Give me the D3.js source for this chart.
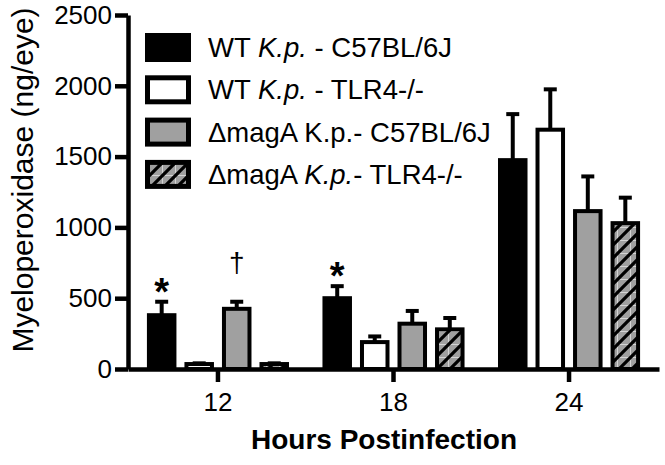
<!DOCTYPE html>
<html>
<head>
<meta charset="utf-8">
<script src="https://cdn.jsdelivr.net/npm/d3@7"></script>
<style>
  body { margin: 0; background: #fff; }
  svg text { font-family: "Liberation Sans", Arial, sans-serif; fill: #000; }
</style>
</head>
<body>
<div id="graph"></div>
<script>
// categories and values
var hours = ["12", "18", "24"];
var groups = ["wtB6", "wtTlr4", "magB6", "magTlr4"];
var wtB6 = [380, 500, 1475];
var wtTlr4 = [35, 190, 1690];
var magB6 = [425, 320, 1115];
var magTlr4 = [35, 280, 1030];
var wtB6Err = [95, 85, 325];
var wtTlr4Err = [5, 40, 285];
var magB6Err = [50, 90, 245];
var magTlr4Err = [5, 80, 180];
var yTicks = [0, 500, 1000, 1500, 2000, 2500];
// legend labels, [plain, italic, plain]
var legendLabels = [
  ["WT ", "K.p.", " - C57BL/6J"],
  ["WT ", "K.p.", " - TLR4-/-"],
  ["\u0394magA K.p.- C57BL/6J", "", ""],
  ["\u0394magA ", "K.p.", "- TLR4-/-"]
];
// significance marks
var markHour = ["12", "12", "18"];
var markGroup = ["wtB6", "magB6", "wtB6"];
var markText = ["*", "\u2020", "*"];

var means = [wtB6, wtTlr4, magB6, magTlr4];
var errs = [wtB6Err, wtTlr4Err, magB6Err, magTlr4Err];
var fills = ["#000", "#fff", "#a0a0a0", "url(#hatch)"];

var width = 665, height = 465;

var svg = d3.select("#graph")
  .append("svg")
    .attr("width", width)
    .attr("height", height);

// hatch pattern for the last group
var pat = svg.append("defs").append("pattern")
    .attr("id", "hatch")
    .attr("patternUnits", "userSpaceOnUse")
    .attr("width", 13)
    .attr("height", 13);
pat.append("rect").attr("width", 13).attr("height", 13).attr("fill", "#a0a0a0");
pat.append("path")
    .attr("d", "M0 6.5 H13 M6.5 0 V13")
    .attr("stroke", "#fff").attr("stroke-opacity", 0.55).attr("stroke-width", 1);
pat.append("path")
    .attr("d", "M-3 3 L3 -3 M0 13 L13 0 M10 16 L16 10")
    .attr("stroke", "#000").attr("stroke-width", 3.2);

var x0 = d3.scaleBand()
  .domain(hours)
  .range([128, 659])
  .paddingInner(0.145)
  .paddingOuter(0.085);

var x1 = d3.scaleBand()
  .domain(groups)
  .range([0, x0.bandwidth()])
  .paddingInner(0.32)
  .paddingOuter(0.16);

var y = d3.scaleLinear()
  .domain([0, 2500])
  .range([369, 15]);

var rows = [];
hours.forEach(function(h, i) {
  groups.forEach(function(g, j) {
    rows.push({ hour: h, group: g, idx: j, value: means[j][i], err: errs[j][i] });
  });
});

// error bars (upper only)
var eb = svg.append("g")
  .attr("stroke", "#000")
  .attr("stroke-width", 4);
rows.forEach(function(d) {
  var cx = x0(d.hour) + x1(d.group) + x1.bandwidth() / 2;
  eb.append("line")
    .attr("x1", cx).attr("x2", cx)
    .attr("y1", y(d.value)).attr("y2", y(d.value + d.err));
  eb.append("line")
    .attr("x1", cx - 6.5).attr("x2", cx + 6.5)
    .attr("y1", y(d.value + d.err)).attr("y2", y(d.value + d.err));
});

// bars
svg.append("g")
  .selectAll("rect")
  .data(rows)
  .enter().append("rect")
    .attr("x", function(d) { return x0(d.hour) + x1(d.group); })
    .attr("y", function(d) { return y(d.value); })
    .attr("width", x1.bandwidth())
    .attr("height", function(d) { return y(0) - y(d.value); })
    .attr("fill", function(d) { return fills[d.idx]; })
    .attr("stroke", "#000")
    .attr("stroke-width", 4);

// axes
var yAxis = svg.append("g")
  .attr("transform", "translate(128,0)")
  .call(d3.axisLeft(y).tickValues(yTicks).tickFormat(d3.format("d"))
    .tickSize(13).tickSizeOuter(0).tickPadding(3));

var xAxis = svg.append("g")
  .attr("transform", "translate(0,369)")
  .call(d3.axisBottom(x0).tickSize(13).tickSizeOuter(0).tickPadding(11));

[yAxis, xAxis].forEach(function(a) {
  a.selectAll("path, line").attr("stroke", "#000").attr("stroke-width", 4.5);
  a.selectAll("text")
    .style("font-family", "'Liberation Sans', Arial, sans-serif")
    .style("font-size", "26px")
    .attr("fill", "#000");
});

// axis titles
svg.append("text")
  .attr("transform", "translate(33,180) rotate(-90)")
  .attr("text-anchor", "middle")
  .style("font-size", "30px")
  .text("Myeloperoxidase (ng/eye)");

svg.append("text")
  .attr("x", 384)
  .attr("y", 449)
  .attr("text-anchor", "middle")
  .style("font-size", "28px")
  .style("font-weight", "bold")
  .text("Hours Postinfection");

// significance marks
markText.forEach(function(t, k) {
  var i = hours.indexOf(markHour[k]), j = groups.indexOf(markGroup[k]);
  var cx = x0(markHour[k]) + x1(markGroup[k]) + x1.bandwidth() / 2;
  var top = y(means[j][i] + errs[j][i]);
  svg.append("text")
    .attr("x", cx)
    .attr("y", t === "*" ? top + 3 : top - 30)
    .attr("text-anchor", "middle")
    .style("font-size", t === "*" ? "38px" : "28px")
    .style("font-weight", t === "*" ? "bold" : "normal")
    .text(t);
});

// legend
var legend = svg.append("g");
legendLabels.forEach(function(parts, i) {
  var ly = 33 + i * 42.3;
  legend.append("rect")
    .attr("x", 147.5)
    .attr("y", ly + 2.5)
    .attr("width", 41)
    .attr("height", 24)
    .attr("fill", fills[i])
    .attr("stroke", "#000")
    .attr("stroke-width", 5);
  var t = legend.append("text")
    .attr("x", 208)
    .attr("y", ly + 24)
    .style("font-size", "27.5px");
  t.append("tspan").text(parts[0]);
  if (parts[1]) t.append("tspan").style("font-style", "italic").text(parts[1]);
  if (parts[2]) t.append("tspan").text(parts[2]);
});
</script>
</body>
</html>
